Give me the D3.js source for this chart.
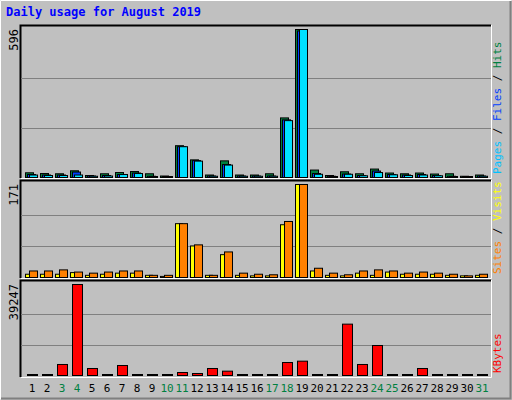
<!DOCTYPE html><html><head><meta charset="utf-8"><script src="https://cdn.jsdelivr.net/npm/d3@7"></script>
<style>body{margin:0;background:#fff}</style></head><body><script>
const days=d3.range(1,32);
const weekend=[3,4,10,11,17,18,24,25,31];
const hits=[19,16,15,27,8,15,20,24,15,6,128,71,10,67,10,10,15,240,596,30,8,23,15,34,18,15,18,14,15,5,10];
const files=[12,10,10,22,6,8,12,18,5,4,124,68,6,52,6,6,6,232,590,16,5,14,8,26,12,10,12,8,5,4,6];
const pages=[10,8,8,10,5,6,12,16,4,3,124,66,5,50,5,5,5,229,596,13,4,13,7,20,11,8,10,7,4,3,5];
const visits=[6,6,6,9,4,6,8,8,4,2,99,58,4,42,4,3,3,97,171,12,4,3,8,4,10,6,6,6,4,3,4];
const sites=[12,12,14,10,8,10,12,12,4,4,99,60,4,47,8,6,5,103,171,17,8,5,12,14,12,8,10,8,6,3,6];
const kbytes=[150,150,4750,39247,3020,150,4310,150,150,150,1290,860,3020,1870,150,150,150,5600,6180,150,150,22150,4750,12940,150,150,3020,150,150,150,150];
const W=512,H=400;
const svg=d3.select("body").append("svg").attr("width",W).attr("height",H);
svg.append("rect").attr("width",W).attr("height",H).attr("fill","#c0c0c0");
svg.append("path").attr("d","M0.5,399.5V0.5H511.5").attr("stroke","#fff").attr("fill","none");
svg.append("path").attr("d","M1,398.5H510.5V1").attr("stroke","#808080").attr("stroke-width",2).attr("fill","none");
svg.append("text").attr("x",6).attr("y",16).text("Daily usage for August 2019").attr("font-family","DejaVu Sans Mono").attr("font-weight","bold").attr("font-size",12).attr("fill","#0000ff");
const x=d3.scaleLinear().domain([1,31]).range([27,477]);
const mono="DejaVu Sans Mono";
function panel(top,bot,base,maxY,max,label,legend){
  svg.append("rect").attr("x",20.5).attr("y",top+.5).attr("width",470).attr("height",bot-top).attr("fill","#c0c0c0");
  svg.append("path").attr("d",`M20.5,${bot}V${top+.5}H491`).attr("stroke","#000").attr("stroke-width",2).attr("fill","none");
  svg.append("path").attr("d",`M21,${bot+.5}H491.5V${top}`).attr("stroke","#fff").attr("fill","none");
  const y=d3.scaleLinear().domain([0,max]).range([base,maxY]);
  [1/3,2/3].forEach(f=>svg.append("line").attr("x1",21).attr("x2",491).attr("y1",Math.round(y(max*f))+.5).attr("y2",Math.round(y(max*f))+.5).attr("stroke","#808080"));
  svg.append("text").attr("transform",`translate(18,${top+4}) rotate(-90)`).attr("text-anchor","end").text(label).attr("font-family",mono).attr("font-size",12).attr("fill","#000");
  const g=svg.append("text").attr("transform",`translate(501,${bot-4}) rotate(-90)`).attr("font-family",mono).attr("font-size",11);
  legend.forEach((l,i)=>{if(i)g.append("tspan").text(" / ").attr("fill","#000");g.append("tspan").text(l[0]).attr("fill",l[1]);});
  return y;
}
function bars(y,data,off,w,color){
  svg.append("g").selectAll("rect").data(data).join("rect")
   .attr("x",(d,i)=>x(days[i])+off+.5).attr("width",w)
   .attr("y",d=>Math.min(y(d),y.range()[0]-1)+.5).attr("height",d=>Math.max(y.range()[0]-y(d),1))
   .attr("fill",color).attr("stroke","#000");
}
const y1=panel(25,178,177,29,596,"596",[["Pages","#00c0ff"],["Files","#0040ff"],["Hits","#008040"]]);
bars(y1,hits,-2,8,"#008040");bars(y1,files,0,8,"#0040ff");bars(y1,pages,2,8,"#00e0ff");
const y2=panel(180,278,277,184,171,"171",[["Sites","#ff8000"],["Visits","#ffff00"]]);
bars(y2,visits,-2,7,"#ffff00");bars(y2,sites,2,8,"#ff8000");
const y3=panel(280,377,375,284,39247,"39247",[["KBytes","#ff0000"]]);
bars(y3,kbytes,0,10,"#ff0000");
svg.append("g").selectAll("text").data(days).join("text").attr("x",d=>x(d)+5).attr("y",392).attr("text-anchor","middle")
 .text(d=>d).attr("font-family",mono).attr("font-size",11).attr("fill",d=>weekend.includes(d)?"#008040":"#000");
</script></body></html>
